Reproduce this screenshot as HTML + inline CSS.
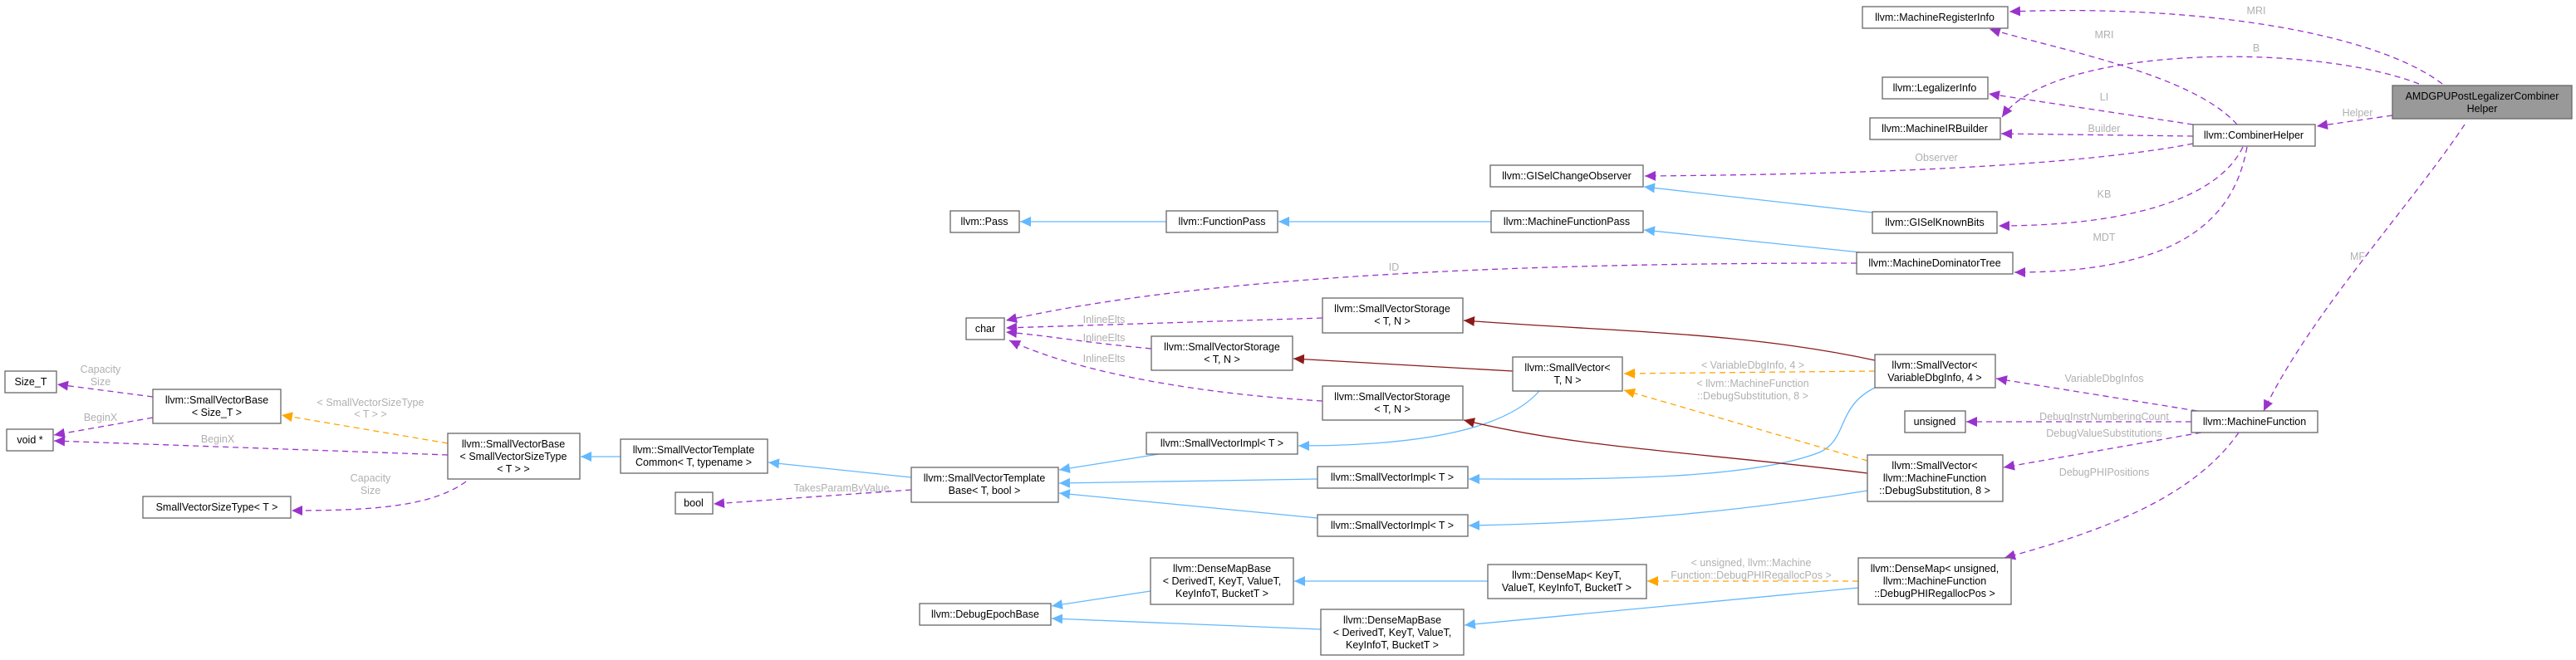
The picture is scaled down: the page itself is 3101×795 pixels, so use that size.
<!DOCTYPE html>
<html><head><meta charset="utf-8">
<style>
html,body{margin:0;padding:0;background:#fff;}
svg{display:block;}
.n rect{fill:#fff;stroke:#666;stroke-width:1.3;}
.n text{font-family:"Liberation Sans",sans-serif;font-size:12.5px;fill:#000;text-anchor:middle;}
.l{font-family:"Liberation Sans",sans-serif;font-size:12.5px;fill:#b0b0b0;text-anchor:middle;}
.p{fill:none;stroke:#9a32cd;stroke-width:1.3;stroke-dasharray:7,5;}
.b{fill:none;stroke:#63b8ff;stroke-width:1.3;}
.r{fill:none;stroke:#8b1a1a;stroke-width:1.3;}
.o{fill:none;stroke:#ffa500;stroke-width:1.3;stroke-dasharray:7,5;}
</style></head><body>
<svg width="3101" height="795" viewBox="0 0 3101 795" xmlns="http://www.w3.org/2000/svg">
<defs>
<marker id="mp" markerUnits="userSpaceOnUse" markerWidth="14" markerHeight="12" refX="13" refY="6" orient="auto"><path d="M0,0 L13,6 L0,12 Z" fill="#9a32cd"/></marker>
<marker id="mb" markerUnits="userSpaceOnUse" markerWidth="14" markerHeight="12" refX="13" refY="6" orient="auto"><path d="M0,0 L13,6 L0,12 Z" fill="#63b8ff"/></marker>
<marker id="mr" markerUnits="userSpaceOnUse" markerWidth="14" markerHeight="12" refX="13" refY="6" orient="auto"><path d="M0,0 L13,6 L0,12 Z" fill="#8b1a1a"/></marker>
<marker id="mo" markerUnits="userSpaceOnUse" markerWidth="14" markerHeight="12" refX="13" refY="6" orient="auto"><path d="M0,0 L13,6 L0,12 Z" fill="#ffa500"/></marker>
</defs>

<!-- purple edges -->
<path class="p" marker-end="url(#mp)" d="M2940,101 C2860,40 2650,5 2419,14"/>
<path class="p" marker-end="url(#mp)" d="M2912,101 C2780,50 2470,55 2410,141"/>
<path class="p" marker-end="url(#mp)" d="M2880,139 L2789,152"/>
<path class="p" marker-end="url(#mp)" d="M2967,150 C2900,250 2780,380 2725,495"/>
<path class="p" marker-end="url(#mp)" d="M2693,150 C2640,90 2480,60 2395,35"/>
<path class="p" marker-end="url(#mp)" d="M2640,150 L2394,113"/>
<path class="p" marker-end="url(#mp)" d="M2640,164 L2409,161"/>
<path class="p" marker-end="url(#mp)" d="M2640,173 C2500,200 2250,210 1980,212"/>
<path class="p" marker-end="url(#mp)" d="M2700,177 C2670,240 2560,272 2406,272"/>
<path class="p" marker-end="url(#mp)" d="M2705,177 C2690,260 2630,328 2425,328"/>
<path class="p" marker-end="url(#mp)" d="M2235,317 C2000,317 1500,320 1211,386"/>
<path class="p" marker-end="url(#mp)" d="M1592,383 L1211,395"/>
<path class="p" marker-end="url(#mp)" d="M1386,420 C1300,412 1260,404 1211,400"/>
<path class="p" marker-end="url(#mp)" d="M1592,483 C1450,475 1300,450 1215,410"/>
<path class="p" marker-end="url(#mp)" d="M2645,495 L2403,456"/>
<path class="p" marker-end="url(#mp)" d="M2638,508 L2367,508"/>
<path class="p" marker-end="url(#mp)" d="M2650,521 L2412,563"/>
<path class="p" marker-end="url(#mp)" d="M2695,521 C2640,600 2530,640 2413,672"/>
<path class="p" marker-end="url(#mp)" d="M1097,590 L859,607"/>
<path class="p" marker-end="url(#mp)" d="M184,478 L69,463"/>
<path class="p" marker-end="url(#mp)" d="M184,503 L65,524"/>
<path class="p" marker-end="url(#mp)" d="M539,548 L65,531"/>
<path class="p" marker-end="url(#mp)" d="M561,580 C520,610 450,615 351,615"/>

<!-- blue edges -->
<path class="b" marker-end="url(#mb)" d="M1404,267 L1228,267"/>
<path class="b" marker-end="url(#mb)" d="M1795,267 L1539,267"/>
<path class="b" marker-end="url(#mb)" d="M2240,304 L1979,277"/>
<path class="b" marker-end="url(#mb)" d="M2254,256 L1979,225"/>
<path class="b" marker-end="url(#mb)" d="M1395,547 L1275,566"/>
<path class="b" marker-end="url(#mb)" d="M1586,577 L1275,582"/>
<path class="b" marker-end="url(#mb)" d="M1586,624 L1275,594"/>
<path class="b" marker-end="url(#mb)" d="M1097,575 L925,557"/>
<path class="b" marker-end="url(#mb)" d="M747,550 L699,550"/>
<path class="b" marker-end="url(#mb)" d="M1853,471 C1810,520 1700,537 1563,537"/>
<path class="b" marker-end="url(#mb)" d="M2257,467 C2210,490 2225,530 2190,545 C2100,580 1900,577 1768,577"/>
<path class="b" marker-end="url(#mb)" d="M2248,591 C2100,615 1950,630 1768,633"/>
<path class="b" marker-end="url(#mb)" d="M2237,708 L1763,753"/>
<path class="b" marker-end="url(#mb)" d="M1791,700 L1558,700"/>
<path class="b" marker-end="url(#mb)" d="M1385,712 L1266,730"/>
<path class="b" marker-end="url(#mb)" d="M1590,758 L1266,745"/>

<!-- red edges -->
<path class="r" marker-end="url(#mr)" d="M2257,434 C2100,400 1950,400 1762,386"/>
<path class="r" marker-end="url(#mr)" d="M1821,447 L1557,432"/>
<path class="r" marker-end="url(#mr)" d="M2248,570 C2050,545 1900,540 1762,506"/>

<!-- orange edges -->
<path class="o" marker-end="url(#mo)" d="M539,534 L339,500"/>
<path class="o" marker-end="url(#mo)" d="M2257,447 L1955,450"/>
<path class="o" marker-end="url(#mo)" d="M2248,555 L1955,470"/>
<path class="o" marker-end="url(#mo)" d="M2237,700 L1983,700"/>

<!-- labels -->
<text class="l" x="2716" y="17">MRI</text>
<text class="l" x="2533" y="46">MRI</text>
<text class="l" x="2716" y="62">B</text>
<text class="l" x="2533" y="121">LI</text>
<text class="l" x="2838" y="140">Helper</text>
<text class="l" x="2533" y="159">Builder</text>
<text class="l" x="2331" y="194">Observer</text>
<text class="l" x="2533" y="238">KB</text>
<text class="l" x="2533" y="290">MDT</text>
<text class="l" x="2838" y="313">MF</text>
<text class="l" x="1678" y="326">ID</text>
<text class="l" x="1329" y="389">InlineElts</text>
<text class="l" x="1329" y="411">InlineElts</text>
<text class="l" x="1329" y="436">InlineElts</text>
<text class="l" x="2110" y="444">&lt; VariableDbgInfo, 4 &gt;</text>
<text class="l" x="2110" y="466">&lt; llvm::MachineFunction</text>
<text class="l" x="2110" y="481">::DebugSubstitution, 8 &gt;</text>
<text class="l" x="2533" y="460">VariableDbgInfos</text>
<text class="l" x="2533" y="506">DebugInstrNumberingCount</text>
<text class="l" x="2533" y="526">DebugValueSubstitutions</text>
<text class="l" x="2533" y="573">DebugPHIPositions</text>
<text class="l" x="2108" y="682">&lt; unsigned, llvm::Machine</text>
<text class="l" x="2108" y="697">Function::DebugPHIRegallocPos &gt;</text>
<text class="l" x="121" y="449">Capacity</text>
<text class="l" x="121" y="464">Size</text>
<text class="l" x="121" y="507">BeginX</text>
<text class="l" x="262" y="533">BeginX</text>
<text class="l" x="446" y="489">&lt; SmallVectorSizeType</text>
<text class="l" x="446" y="503">&lt; T &gt; &gt;</text>
<text class="l" x="446" y="580">Capacity</text>
<text class="l" x="446" y="595">Size</text>
<text class="l" x="1013" y="592">TakesParamByValue</text>

<!-- nodes -->
<g class="n">
<rect x="2880" y="103" width="216" height="40" style="fill:#999"/><text x="2988" y="120">AMDGPUPostLegalizerCombiner</text><text x="2988" y="135">Helper</text>
<rect x="2242" y="8" width="175" height="26"/><text x="2329" y="25">llvm::MachineRegisterInfo</text>
<rect x="2266" y="93" width="127" height="26"/><text x="2329" y="110">llvm::LegalizerInfo</text>
<rect x="2251" y="142" width="157" height="26"/><text x="2329" y="159">llvm::MachineIRBuilder</text>
<rect x="2640" y="150" width="147" height="26"/><text x="2713" y="167">llvm::CombinerHelper</text>
<rect x="1794" y="199" width="184" height="26"/><text x="1886" y="216">llvm::GISelChangeObserver</text>
<rect x="2254" y="255" width="150" height="26"/><text x="2329" y="272">llvm::GISelKnownBits</text>
<rect x="2235" y="304" width="188" height="26"/><text x="2329" y="321">llvm::MachineDominatorTree</text>
<rect x="1144" y="254" width="83" height="26"/><text x="1185" y="271">llvm::Pass</text>
<rect x="1404" y="254" width="134" height="26"/><text x="1471" y="271">llvm::FunctionPass</text>
<rect x="1795" y="254" width="183" height="26"/><text x="1886" y="271">llvm::MachineFunctionPass</text>
<rect x="1163" y="383" width="46" height="26"/><text x="1186" y="400">char</text>
<rect x="1592" y="359" width="169" height="42"/><text x="1676" y="376">llvm::SmallVectorStorage</text><text x="1676" y="391">&lt; T, N &gt;</text>
<rect x="1386" y="405" width="170" height="41"/><text x="1471" y="422">llvm::SmallVectorStorage</text><text x="1471" y="437">&lt; T, N &gt;</text>
<rect x="1821" y="430" width="132" height="41"/><text x="1887" y="447">llvm::SmallVector&lt;</text><text x="1887" y="462">T, N &gt;</text>
<rect x="1592" y="465" width="169" height="41"/><text x="1676" y="482">llvm::SmallVectorStorage</text><text x="1676" y="497">&lt; T, N &gt;</text>
<rect x="1380" y="521" width="182" height="26"/><text x="1471" y="538">llvm::SmallVectorImpl&lt; T &gt;</text>
<rect x="1097" y="563" width="177" height="42"/><text x="1185" y="580">llvm::SmallVectorTemplate</text><text x="1185" y="595">Base&lt; T, bool &gt;</text>
<rect x="1586" y="562" width="181" height="26"/><text x="1676" y="579">llvm::SmallVectorImpl&lt; T &gt;</text>
<rect x="1586" y="620" width="181" height="26"/><text x="1676" y="637">llvm::SmallVectorImpl&lt; T &gt;</text>
<rect x="1385" y="672" width="172" height="56"/><text x="1471" y="689">llvm::DenseMapBase</text><text x="1471" y="704">&lt; DerivedT, KeyT, ValueT,</text><text x="1471" y="719">KeyInfoT, BucketT &gt;</text>
<rect x="1791" y="680" width="191" height="41"/><text x="1886" y="697">llvm::DenseMap&lt; KeyT,</text><text x="1886" y="712">ValueT, KeyInfoT, BucketT &gt;</text>
<rect x="1107" y="727" width="158" height="26"/><text x="1186" y="744">llvm::DebugEpochBase</text>
<rect x="1590" y="734" width="172" height="55"/><text x="1676" y="751">llvm::DenseMapBase</text><text x="1676" y="766">&lt; DerivedT, KeyT, ValueT,</text><text x="1676" y="781">KeyInfoT, BucketT &gt;</text>
<rect x="2257" y="427" width="145" height="40"/><text x="2329" y="444">llvm::SmallVector&lt;</text><text x="2329" y="459">VariableDbgInfo, 4 &gt;</text>
<rect x="2293" y="495" width="73" height="26"/><text x="2329" y="512">unsigned</text>
<rect x="2638" y="495" width="152" height="26"/><text x="2714" y="512">llvm::MachineFunction</text>
<rect x="2248" y="548" width="163" height="56"/><text x="2329" y="565">llvm::SmallVector&lt;</text><text x="2329" y="580">llvm::MachineFunction</text><text x="2329" y="595">::DebugSubstitution, 8 &gt;</text>
<rect x="2237" y="672" width="184" height="56"/><text x="2329" y="689">llvm::DenseMap&lt; unsigned,</text><text x="2329" y="704">llvm::MachineFunction</text><text x="2329" y="719">::DebugPHIRegallocPos &gt;</text>
<rect x="6" y="447" width="62" height="26"/><text x="37" y="464">Size_T</text>
<rect x="184" y="469" width="154" height="41"/><text x="261" y="486">llvm::SmallVectorBase</text><text x="261" y="501">&lt; Size_T &gt;</text>
<rect x="8" y="517" width="56" height="26"/><text x="36" y="534">void *</text>
<rect x="539" y="522" width="159" height="55"/><text x="618" y="539">llvm::SmallVectorBase</text><text x="618" y="554">&lt; SmallVectorSizeType</text><text x="618" y="569">&lt; T &gt; &gt;</text>
<rect x="747" y="529" width="177" height="41"/><text x="835" y="546">llvm::SmallVectorTemplate</text><text x="835" y="561">Common&lt; T, typename &gt;</text>
<rect x="172" y="598" width="178" height="26"/><text x="261" y="615">SmallVectorSizeType&lt; T &gt;</text>
<rect x="813" y="593" width="45" height="26"/><text x="835" y="610">bool</text>
</g>
</svg>
</body></html>
